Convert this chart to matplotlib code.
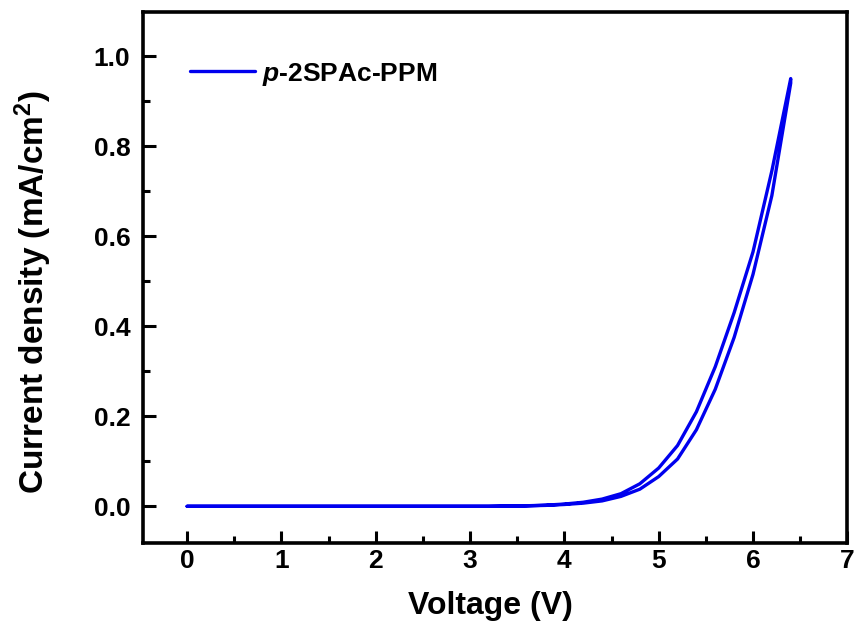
"""J-V curve of the p-2SPAc-PPM device"""
import matplotlib
matplotlib.use('Agg')
import matplotlib.pyplot as plt
from matplotlib.ticker import MultipleLocator

plt.rcParams['font.family'] = 'Liberation Sans'
plt.rcParams['font.weight'] = 'bold'
plt.rcParams['mathtext.fontset'] = 'custom'
plt.rcParams['mathtext.rm'] = 'Liberation Sans:bold'
plt.rcParams['mathtext.it'] = 'Liberation Sans:italic:bold'
plt.rcParams['mathtext.bf'] = 'Liberation Sans:bold'

# forward sweep 0 -> 6.4 V
voltage_fwd = [0.0, 0.4, 0.8, 1.2, 1.6, 2.0, 2.4, 2.8, 3.2, 3.4, 3.6, 3.8,
               4.0, 4.2, 4.4, 4.6, 4.8, 5.0, 5.2, 5.4, 5.6, 5.8, 6.0, 6.2, 6.4]
current_fwd = [0.0, 0.0, 0.0, 0.0, 0.0, 0.0, 0.0, 0.0, 0.0, 0.0005, 0.001, 0.002,
               0.004, 0.007, 0.012, 0.022, 0.038, 0.066, 0.105, 0.17, 0.26, 0.375,
               0.515, 0.69, 0.94]

# reverse sweep 6.4 -> 0 V
voltage_rev = [6.4, 6.2, 6.0, 5.8, 5.6, 5.4, 5.2, 5.0, 4.8, 4.6, 4.4, 4.2, 4.0,
               3.8, 3.6, 3.4, 3.2, 2.8, 2.4, 2.0, 1.6, 1.2, 0.8, 0.4, 0.0]
current_rev = [0.95, 0.745, 0.565, 0.43, 0.31, 0.21, 0.135, 0.085, 0.05, 0.028,
               0.016, 0.009, 0.005, 0.0025, 0.0012, 0.0005, 0.0, 0.0, 0.0, 0.0,
               0.0, 0.0, 0.0, 0.0, 0.0]

fig = plt.figure(figsize=(8.55, 6.28), dpi=100)
ax = fig.add_axes([0.167, 0.135, 0.824, 0.846])

ax.plot(voltage_fwd + voltage_rev, current_fwd + current_rev,
        color='#0000ee', lw=2.4, solid_capstyle='round', label='$p$-2SPAc-PPM')

ax.set_xlim(-0.47, 7.0)
ax.set_ylim(-0.082, 1.098)
ax.xaxis.set_major_locator(MultipleLocator(1))
ax.xaxis.set_minor_locator(MultipleLocator(0.5))
ax.yaxis.set_major_locator(MultipleLocator(0.2))
ax.yaxis.set_minor_locator(MultipleLocator(0.1))

ax.tick_params(which='both', direction='in', width=2.2, labelsize=19,
               top=False, right=False)
ax.tick_params(which='major', length=9)
ax.tick_params(axis='y', which='major', pad=9)
ax.tick_params(axis='x', which='major', pad=4)
ax.tick_params(which='minor', length=5)
for s in ax.spines.values():
    s.set_linewidth(2.6)

ax.set_xlabel('Voltage (V)', fontsize=23, fontweight='bold')
ax.set_ylabel('Current density (mA/cm$^2$)', fontsize=24, fontweight='bold')
ax.xaxis.set_label_coords(0.493, -0.09)
ax.yaxis.set_label_coords(-0.126, 0.472)

ax.legend(loc='center left', bbox_to_anchor=(0.067, 0.883), frameon=False,
          borderpad=0, borderaxespad=0, handlelength=2.46, handletextpad=0.27,
          prop={'weight': 'bold', 'size': 19})

fig.savefig('out.png', dpi=100)
